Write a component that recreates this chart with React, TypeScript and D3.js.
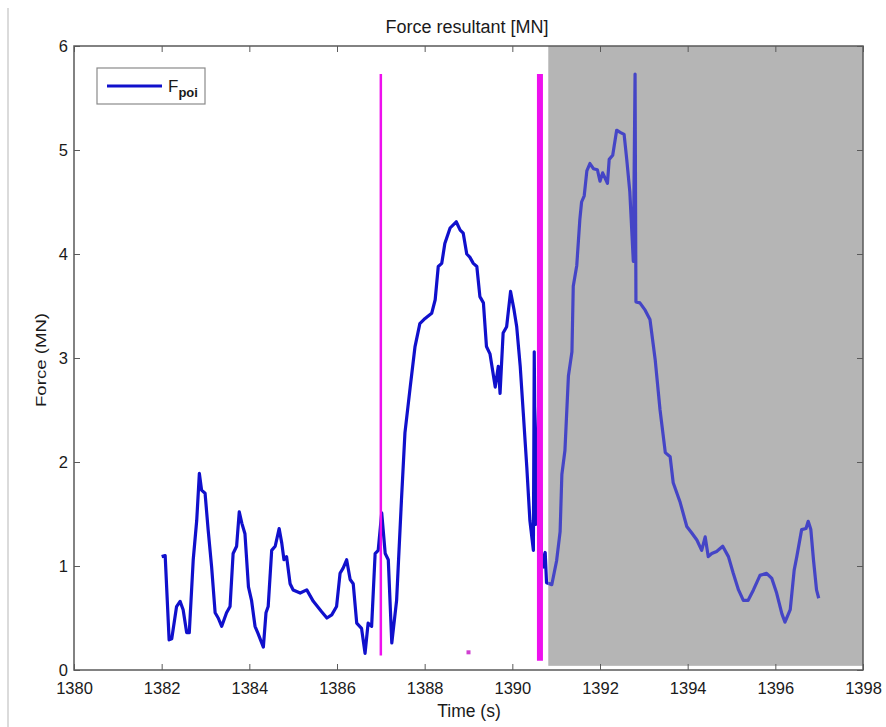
import { useEffect, useRef } from "react"
import * as d3 from "d3"

// time (s) and resultant force (MN)
const times = [
  1382.0, 1382.08, 1382.17, 1382.23, 1382.34, 1382.42, 1382.49, 1382.57, 1382.63, 1382.72,
  1382.8, 1382.86, 1382.91, 1382.99, 1383.06, 1383.14, 1383.22, 1383.29, 1383.37, 1383.48,
  1383.56, 1383.63, 1383.71, 1383.77, 1383.83, 1383.9, 1383.98, 1384.05, 1384.13, 1384.2,
  1384.32, 1384.38, 1384.43, 1384.51, 1384.59, 1384.68, 1384.74, 1384.79, 1384.85, 1384.93,
  1385.0, 1385.16, 1385.31, 1385.46, 1385.65, 1385.77, 1385.88, 1385.99, 1386.07, 1386.14,
  1386.22, 1386.3, 1386.37, 1386.45, 1386.56, 1386.64, 1386.71, 1386.79, 1386.87, 1386.94,
  1387.02, 1387.1, 1387.17, 1387.25, 1387.36, 1387.47, 1387.55, 1387.67, 1387.78, 1387.89,
  1388.01, 1388.16, 1388.24, 1388.31, 1388.39, 1388.46, 1388.58, 1388.72, 1388.81, 1388.88,
  1388.96, 1389.03, 1389.11, 1389.19, 1389.26, 1389.34, 1389.41, 1389.49, 1389.61, 1389.68,
  1389.72, 1389.79, 1389.87, 1389.96, 1390.04, 1390.1, 1390.18, 1390.25, 1390.33, 1390.4,
  1390.48, 1390.5, 1390.53, 1390.62, 1390.66, 1390.72, 1390.75, 1390.78, 1390.9, 1391.01,
  1391.09, 1391.13, 1391.2, 1391.28, 1391.36, 1391.39, 1391.47, 1391.54, 1391.58, 1391.64,
  1391.7, 1391.77, 1391.85, 1391.94, 1392.0, 1392.06, 1392.17, 1392.21, 1392.29, 1392.38,
  1392.46, 1392.55, 1392.61, 1392.68, 1392.76, 1392.8, 1392.82, 1392.91, 1393.03, 1393.14,
  1393.26, 1393.37, 1393.49, 1393.6, 1393.67, 1393.83, 1393.98, 1394.09, 1394.21, 1394.32,
  1394.4, 1394.47, 1394.55, 1394.66, 1394.8, 1394.93, 1395.04, 1395.16, 1395.27, 1395.38,
  1395.5, 1395.65, 1395.8, 1395.92, 1396.03, 1396.15, 1396.22, 1396.34, 1396.43, 1396.49,
  1396.6, 1396.7, 1396.75, 1396.81, 1396.87, 1396.94, 1396.99,
]
const forces = [
  1.09, 1.1, 0.29, 0.3, 0.61, 0.66, 0.58, 0.36, 0.36, 1.06,
  1.44, 1.89, 1.73, 1.7, 1.35, 0.99, 0.55, 0.5, 0.42, 0.55,
  0.61, 1.12, 1.19, 1.52, 1.41, 1.31, 0.8, 0.67, 0.42, 0.35,
  0.22, 0.55, 0.61, 1.15, 1.19, 1.36, 1.22, 1.06, 1.09, 0.83,
  0.77, 0.74, 0.77, 0.66, 0.56, 0.5, 0.53, 0.61, 0.93, 0.98,
  1.06, 0.87, 0.83, 0.45, 0.4, 0.16, 0.45, 0.42, 1.12, 1.15,
  1.51, 1.12, 1.06, 0.26, 0.67, 1.63, 2.28, 2.72, 3.11, 3.33,
  3.38, 3.43, 3.56, 3.88, 3.91, 4.1, 4.25, 4.31, 4.23, 4.2,
  4.0, 3.97, 3.91, 3.88, 3.59, 3.53, 3.11, 3.04, 2.72, 2.92,
  2.66, 3.24, 3.3, 3.64, 3.46, 3.3, 2.92, 2.47, 1.95, 1.44,
  1.15, 3.06, 1.4, 2.88, 1.15, 0.99, 1.13, 0.84, 0.82, 1.05,
  1.33, 1.88, 2.11, 2.83, 3.06, 3.69, 3.89, 4.33, 4.5, 4.56,
  4.8, 4.87, 4.82, 4.81, 4.7, 4.78, 4.68, 4.91, 4.95, 5.19,
  5.17, 5.15, 4.91, 4.6, 3.93, 5.73, 3.54, 3.53, 3.46, 3.37,
  2.98, 2.5, 2.09, 2.05, 1.8, 1.61, 1.38, 1.32, 1.25, 1.15,
  1.28, 1.09, 1.12, 1.14, 1.19, 1.09, 0.93, 0.77, 0.67, 0.67,
  0.77, 0.91, 0.93, 0.88, 0.74, 0.54, 0.46, 0.58, 0.96, 1.09,
  1.35, 1.36, 1.43, 1.35, 1.06, 0.77, 0.69,
]

// magenta event markers
const markerTimes = [1387.0, 1390.63]
const markerBottoms = [0.14, 0.09]
const markerTops = [5.73, 5.73]
const markerWidths = [2.5, 6]
const dotTime = 1389.0
const dotForce = 0.17

// shaded window
const shadeStart = 1390.82
const shadeEnd = 1398
const shadeBottom = 0.04

const xTicks = [1380, 1382, 1384, 1386, 1388, 1390, 1392, 1394, 1396, 1398]
const yTicks = [0, 1, 2, 3, 4, 5, 6]

const W = 886
const H = 727

const App = () => {
  const svgRef = useRef(null)

  useEffect(() => {
    const x = d3.scaleLinear().domain([1380, 1398]).range([74, 863])
    const y = d3.scaleLinear().domain([0, 6]).range([670, 46])
    const font = "'Liberation Sans', Arial, sans-serif"

    const svg = d3.select(svgRef.current)
    svg.selectAll("*").remove()

    svg.append("rect").attr("width", W).attr("height", H).attr("fill", "#fff")
    // frame edge on the left of the screenshot
    svg.append("line").attr("x1", 8).attr("x2", 8).attr("y1", 8).attr("y2", H).attr("stroke", "#cfcfcf").attr("stroke-width", 1.5)

    // shaded window
    svg
      .append("rect")
      .attr("x", x(shadeStart))
      .attr("y", y(6))
      .attr("width", x(shadeEnd) - x(shadeStart))
      .attr("height", y(shadeBottom) - y(6))
      .attr("fill", "#b5b5b5")

    const data = times.map((t, i) => [t, forces[i]])
    const line = d3
      .line()
      .x((d) => x(d[0]))
      .y((d) => y(d[1]))

    const defs = svg.append("defs")
    defs.append("clipPath").attr("id", "clipWhite").append("rect").attr("x", 0).attr("y", 0).attr("width", x(shadeStart)).attr("height", H)
    defs.append("clipPath").attr("id", "clipGray").append("rect").attr("x", x(shadeStart)).attr("y", 0).attr("width", W).attr("height", H)

    svg.append("path").datum(data).attr("d", line).attr("fill", "none").attr("stroke", "#1010cc").attr("stroke-width", 3.2).attr("stroke-linejoin", "round").attr("clip-path", "url(#clipWhite)")
    svg.append("path").datum(data).attr("d", line).attr("fill", "none").attr("stroke", "#4545c6").attr("stroke-width", 3.2).attr("stroke-linejoin", "round").attr("clip-path", "url(#clipGray)")

    // magenta markers
    markerTimes.forEach((t, i) => {
      svg
        .append("line")
        .attr("x1", x(t))
        .attr("x2", x(t))
        .attr("y1", y(markerBottoms[i]))
        .attr("y2", y(markerTops[i]))
        .attr("stroke", "#ee10ee")
        .attr("stroke-width", markerWidths[i])
    })
    svg.append("rect").attr("x", x(dotTime) - 2).attr("y", y(dotForce) - 2).attr("width", 4).attr("height", 4).attr("fill", "#d040d0")

    // axes (matlab style box, inward ticks)
    const axisColor = "#5a5a5a"
    const styleAxis = (g) => {
      g.select(".domain").remove()
      g.selectAll(".tick line").attr("stroke", axisColor).attr("stroke-width", 1)
      g.selectAll("text").attr("fill", "#1a1a1a").style("font-family", font).style("font-size", "16.5px")
    }
    svg.append("g").attr("transform", `translate(0,${y(0)})`).call(d3.axisBottom(x).tickValues(xTicks).tickFormat(d3.format("d")).tickSizeInner(-6).tickSizeOuter(0).tickPadding(12)).call(styleAxis)
    svg.append("g").attr("transform", `translate(0,${y(6)})`).call(d3.axisTop(x).tickValues(xTicks).tickFormat(() => "").tickSizeInner(-6).tickSizeOuter(0)).call(styleAxis)
    svg.append("g").attr("transform", `translate(${x(1380)},0)`).call(d3.axisLeft(y).tickValues(yTicks).tickFormat(d3.format("d")).tickSizeInner(-6).tickSizeOuter(0).tickPadding(6)).call(styleAxis)
    svg.append("g").attr("transform", `translate(${x(1398)},0)`).call(d3.axisRight(y).tickValues(yTicks).tickFormat(() => "").tickSizeInner(-6).tickSizeOuter(0)).call(styleAxis)

    svg
      .append("rect")
      .attr("x", x(1380))
      .attr("y", y(6))
      .attr("width", x(1398) - x(1380))
      .attr("height", y(0) - y(6))
      .attr("fill", "none")
      .attr("stroke", axisColor)
      .attr("stroke-width", 1.5)

    // titles
    svg.append("text").attr("x", 467).attr("y", 33).attr("text-anchor", "middle").style("font-family", font).style("font-size", "18px").attr("fill", "#1a1a1a").text("Force resultant [MN]")
    svg.append("text").attr("x", 469).attr("y", 717).attr("text-anchor", "middle").style("font-family", font).style("font-size", "17.5px").attr("fill", "#1a1a1a").text("Time (s)")
    svg
      .append("text")
      .attr("transform", `translate(46,360) rotate(-90)`)
      .attr("text-anchor", "middle")
      .style("font-family", font)
      .style("font-size", "15px")
      .attr("fill", "#1a1a1a")
      .attr("textLength", 94)
      .attr("lengthAdjust", "spacingAndGlyphs")
      .text("Force (MN)")

    // legend
    const lg = svg.append("g").attr("transform", "translate(97,68)")
    lg.append("rect").attr("width", 108).attr("height", 36).attr("fill", "#fff").attr("stroke", "#8a8a8a").attr("stroke-width", 1.2)
    lg.append("line").attr("x1", 10).attr("x2", 65).attr("y1", 18).attr("y2", 18).attr("stroke", "#1010cc").attr("stroke-width", 3.2)
    const lt = lg.append("text").attr("x", 71).attr("y", 24).style("font-family", font).attr("fill", "#1a1a1a")
    lt.append("tspan").style("font-size", "17px").text("F")
    lt.append("tspan").attr("dy", 5).style("font-size", "13px").style("font-weight", "bold").text("poi")
  }, [])

  return <svg ref={svgRef} width={W} height={H} style={{ position: "absolute", left: 0, top: 0 }} />
}

export default App
